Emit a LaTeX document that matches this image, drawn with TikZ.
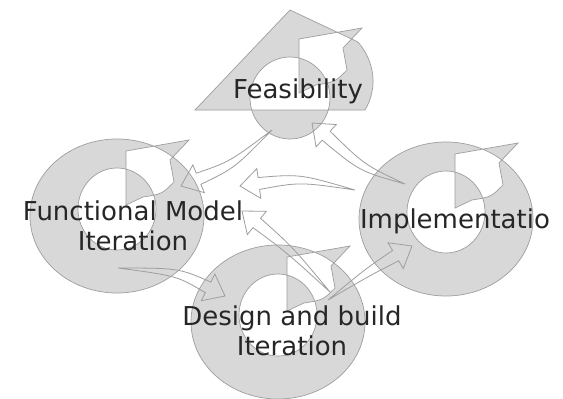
\documentclass[tikz,border=0pt]{standalone}
\usepackage{fontspec}
\setmainfont{DejaVu Sans}
\usetikzlibrary{calc}
\definecolor{ringgray}{RGB}{216,216,216}
\definecolor{edgegray}{RGB}{158,158,158}
\definecolor{textgray}{RGB}{38,38,38}
\tikzset{
  ringshape/.style={fill=ringgray, draw=edgegray, line width=0.7pt, even odd rule},
  connector/.style={draw=edgegray, line width=0.8pt, line join=miter},
  cyclabel/.style={font=\fontsize{26}{30}\selectfont, text=textgray, inner sep=0pt, align=center},
  pizza/.pic={
    \path[ringshape] (0,0) ellipse [x radius=87pt, y radius=77pt]
      (0,-7) ellipse [x radius=39pt, y radius=41pt]
      (9,-11) -- (9,-65) -- (72,-76) -- (53,-56) -- (57,-34)
      .. controls (45,-22) .. (26,-19) -- cycle;
  },
  cheese/.pic={
    \path[ringshape] (0,-94) -- (-95,6) -- (75,6)
      .. controls (88,-16) and (85,-42) .. (68,-62) -- cycle
      (0,-6) ellipse [x radius=40pt, y radius=41pt]
      (9,-11) -- (9,-65) -- (72,-76) -- (53,-56) -- (57,-34)
      .. controls (45,-22) .. (26,-19) -- cycle;
  }
}
% hollow connector: #1 tail, #2 control, #3 tip
\newcommand{\hollowarrow}[3]{%
  \coordinate (ha-b) at ($(#3)!19pt!(#2)$);
  \coordinate (ha-l) at ($(ha-b)!6pt!-90:(#2)$);
  \coordinate (ha-r) at ($(ha-b)!6pt!90:(#2)$);
  \coordinate (ha-L) at ($(ha-b)!15pt!-90:(#2)$);
  \coordinate (ha-R) at ($(ha-b)!15pt!90:(#2)$);
  \coordinate (ha-d) at ($(#2)+(ha-b)-(#1)$);
  \coordinate (ha-c1) at ($(#2)!4pt!90:(ha-d)$);
  \coordinate (ha-c2) at ($(#2)!4pt!-90:(ha-d)$);
  \draw[connector] (#1) .. controls (ha-c1) .. (ha-l) -- (ha-L) -- (#3)
    -- (ha-R) -- (ha-r) .. controls (ha-c2) .. (#1) -- cycle;
}
\begin{document}
\begin{tikzpicture}[x=1pt,y=-1pt]
\useasboundingbox (0,0) rectangle (563,399);
\fill[white] (0,0) rectangle (563,399);

% cycles
\pic at (290,104) {cheese};
\pic at (117,216) {pizza};
\pic at (446,219) {pizza};
\pic at (278,322) {pizza};

% connector end points
\coordinate (a1) at (272,130); \coordinate (c1) at (232,165); \coordinate (b1) at (181,186);
\coordinate (a2) at (355,190); \coordinate (c2) at (300,178); \coordinate (b2) at (240,186);
\coordinate (a3) at (405,184); \coordinate (c3) at (362,168); \coordinate (b3) at (312,123);
\coordinate (a4) at (330,292); \coordinate (c4) at (290,250); \coordinate (b4) at (242,211);
\coordinate (a5) at (118,268); \coordinate (c5) at (178,272); \coordinate (b5) at (225,296);
\coordinate (a6) at (328,300); \coordinate (c6) at (368,272); \coordinate (b6) at (412,246);

\hollowarrow{a1}{c1}{b1}
\hollowarrow{a2}{c2}{b2}
\hollowarrow{a3}{c3}{b3}
\hollowarrow{a4}{c4}{b4}
\hollowarrow{a5}{c5}{b5}
\hollowarrow{a6}{c6}{b6}

% labels
\node[cyclabel, anchor=base] (feas) at (298,98) {Feasibility};
\node[cyclabel, anchor=base] (impl) at (455,228) {Implementatio};
\node[cyclabel, anchor=base] (fm) at (133,250) {Functional Model\\Iteration};
\node[cyclabel, anchor=base] (db) at (292,355) {Design and build\\Iteration};
\end{tikzpicture}
\end{document}
